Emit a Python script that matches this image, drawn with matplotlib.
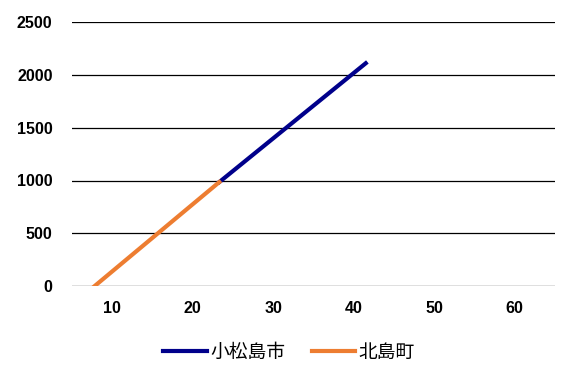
import matplotlib
matplotlib.use('Agg')
import matplotlib.pyplot as plt

plt.rcParams['font.family'] = ['Noto Sans CJK JP', 'DejaVu Sans']

# data
komatsu_x = [23.3, 41.5]
komatsu_y = [985, 2110]
kitajima_x = [7.8, 23.3]
kitajima_y = [0, 985]
series_names = ['小松島市', '北島町']
x_ticks = [10, 20, 30, 40, 50, 60]
y_ticks = [0, 500, 1000, 1500, 2000, 2500]

fig = plt.figure(figsize=(5.78, 3.8), dpi=100)
ax = fig.add_axes([0.1246, 0.247, 0.8354, 0.695])

ax.plot(komatsu_x, komatsu_y, color='#00008B', linewidth=3, label=series_names[0], zorder=3)
ax.plot(kitajima_x, kitajima_y, color='#ED7D31', linewidth=3, label=series_names[1], zorder=3)

ax.set_xlim(5, 65)
ax.set_ylim(0, 2500)
ax.set_xticks(x_ticks)
ax.set_yticks(y_ticks)
ax.yaxis.grid(True, color='black', linewidth=0.9)
ax.set_axisbelow(True)
for s in ax.spines.values():
    s.set_visible(False)
ax.tick_params(length=0, labelsize=11.5)
ax.tick_params(axis='y', pad=14)
ax.tick_params(axis='x', pad=11)
for lbl in ax.get_xticklabels() + ax.get_yticklabels():
    lbl.set_family(['Liberation Sans', 'DejaVu Sans'])
    lbl.set_fontweight('bold')

fig.legend(loc='center', bbox_to_anchor=(0.5, 0.073), ncol=2, frameon=False,
           fontsize=13.5, handlelength=2.3, columnspacing=1.4, handletextpad=0.2)

fig.savefig('out.png', dpi=100)
